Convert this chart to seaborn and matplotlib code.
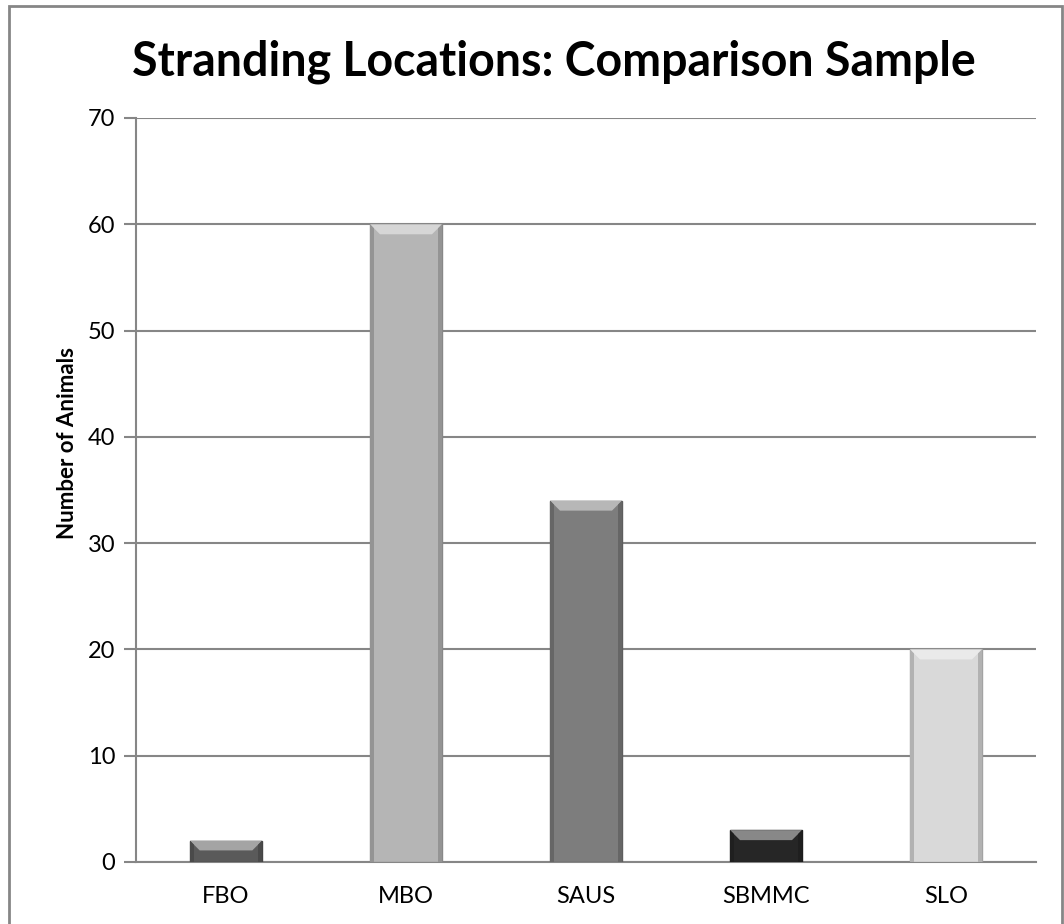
import matplotlib
matplotlib.use("Agg")
import matplotlib.pyplot as plt
import seaborn as sns
import pandas as pd
from matplotlib.patches import Rectangle, Polygon

categories = ["FBO", "MBO", "SAUS", "SBMMC", "SLO"]
values = [2, 60, 34, 3, 20]
bar_colors = ["#5a5a5a", "#b5b5b5", "#7d7d7d", "#262626", "#d9d9d9"]
yticks = [0, 10, 20, 30, 40, 50, 60, 70]

sns.set_theme(style="white")
plt.rcParams["font.family"] = ["Lato", "DejaVu Sans"]
plt.rcParams["text.color"] = "black"
plt.rcParams["xtick.color"] = "black"
plt.rcParams["ytick.color"] = "black"

df = pd.DataFrame({"loc": categories, "n": values})

fig = plt.figure(figsize=(10.64, 9.24), dpi=100)
ax = fig.add_axes([136/1064, 1-862/924, 900/1064, (862-118)/924])

sns.barplot(data=df, x="loc", y="n", hue="loc", palette=bar_colors, width=0.4,
            legend=False, ax=ax, saturation=1, zorder=3)

ax.set_ylim(0, 70)
ax.set_xlim(-0.5, 4.5)
ax.set_yticks(yticks)
ax.yaxis.grid(True, color="#868686", linewidth=1.5, zorder=0)
ax.set_axisbelow(True)
for s in ["top", "right"]:
    ax.spines[s].set_visible(False)
ax.spines["left"].set_color("#868686")
ax.spines["left"].set_linewidth(1.5)
ax.spines["bottom"].set_color("#868686")
ax.spines["bottom"].set_linewidth(1.5)
ax.tick_params(axis="y", length=9, width=1.5, color="#868686", labelcolor="black",
               labelsize=17, pad=6, left=True)
ax.tick_params(axis="x", length=0, labelsize=17, labelcolor="black", pad=17)
ax.set_xlabel("")
ax.set_ylabel("")

def adjust(c, f):
    import matplotlib.colors as mc
    r, g, b = mc.to_rgb(c)
    if f > 1:
        return (r + (1-r)*(f-1), g + (1-g)*(f-1), b + (1-b)*(f-1))
    return (r*f, g*f, b*f)

# bevel effect derived from the bar geometry produced by seaborn
fig.canvas.draw()
trans = ax.transData
inv = trans.inverted()
for p, c in zip(ax.patches, bar_colors):
    x0, y0 = p.get_x(), p.get_y()
    w, h = p.get_width(), p.get_height()
    (px0, py0) = trans.transform((x0, y0))
    (px1, py1) = trans.transform((x0 + w, y0 + h))
    bev = min(10, (py1 - py0) / 2.2)
    edge = 4
    top = [(px0, py1), (px1, py1), (px1 - bev, py1 - bev), (px0 + bev, py1 - bev)]
    ax.add_patch(Polygon([inv.transform(pt) for pt in top], closed=True,
                         facecolor=adjust(c, 1.45), edgecolor="none", zorder=4))
    left = [(px0, py0), (px0, py1), (px0 + edge, py1 - edge), (px0 + edge, py0)]
    right = [(px1, py0), (px1, py1), (px1 - edge, py1 - edge), (px1 - edge, py0)]
    for poly in (left, right):
        ax.add_patch(Polygon([inv.transform(pt) for pt in poly], closed=True,
                             facecolor=adjust(c, 0.82), edgecolor="none", zorder=4))
    p.set_edgecolor(adjust(c, 0.75))
    p.set_linewidth(1.0)

fig.text(554/1064, 1-62/924, "Stranding Locations: Comparison Sample",
         ha="center", va="center", fontsize=33.5, fontweight="bold", color="black")
fig.text(68/1064, 1-443/924, "Number of Animals", ha="center", va="center",
         rotation=90, fontsize=16, fontweight="bold", color="black")

fig.patches.append(Rectangle((9/1064, -0.01), (1062-9)/1064, 1-6/924+0.01,
                             transform=fig.transFigure, fill=False,
                             edgecolor="#868686", linewidth=2))

fig.savefig("out.png", dpi=100)
